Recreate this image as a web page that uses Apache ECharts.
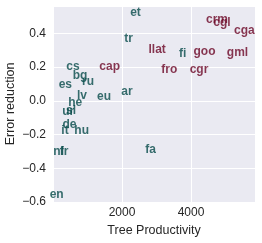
<!DOCTYPE html>
<html><head><meta charset="utf-8">
<script src="https://cdn.jsdelivr.net/npm/echarts@6/dist/echarts.min.js"></script>
<style>html,body{margin:0;padding:0;background:#fff}#c{width:262px;height:243px}</style>
</head><body><div id="c"></div>
<script>
// Labels (language codes), tree productivity (x), error reduction (y), group
const labels = ['cs','cap','bg','ru','es','lv','eu','he','ar','ur','sl','de','it','hu','nl','fr','en','fa','tr','et','llat','fi','goo','gml','fro','cgr','crm','cgl','cga'];
const productivity = [580,1643,783,1014,357,841,1478,646,2145,441,522,478,348,832,165,319,107,2826,2188,2391,3020,3759,4391,5348,3371,4232,4754,4899,5545];
const errorReduction = [0.200,0.200,0.147,0.111,0.093,0.028,0.024,-0.012,0.052,-0.067,-0.061,-0.144,-0.180,-0.180,-0.299,-0.299,-0.554,-0.291,0.370,0.522,0.305,0.281,0.289,0.285,0.182,0.182,0.483,0.463,0.418];
const groups = ['a','b','a','a','a','a','a','a','a','a','a','a','a','a','a','a','a','a','a','a','b','a','b','b','b','b','b','b','b'];
const xTicks = [2000, 4000];
const yTicks = [-0.6,-0.4,-0.2,0.0,0.2,0.4];

const colors = {a:'#074b4a', b:'#6b0626'};
const FONT = '"Liberation Sans", Arial, sans-serif';

function mk(g){
  const d=[];
  for(let i=0;i<labels.length;i++) if(groups[i]===g) d.push([productivity[i], errorReduction[i], labels[i]]);
  return {
    type:'scatter', data:d, symbolSize:1, itemStyle:{color:'rgba(0,0,0,0)'},
    label:{show:true, position:'inside', formatter:p=>p.data[2], color:colors[g],
      fontFamily:FONT, fontWeight:'bold', fontSize:12},
    emphasis:{disabled:true}, animation:false
  };
}
const fmtY = v => { const r=Math.round(v*10)/10; const s=(Math.abs(r)<1e-9?0:r).toFixed(1); return s.replace('-','\u2212'); };

const chart = echarts.init(document.getElementById('c'), null, {renderer:'canvas'});
chart.setOption({
  animation:false,
  grid:{left:53, right:7, top:6, bottom:41, show:true, backgroundColor:'#EAEAF2', borderWidth:0, outerBoundsMode:'none', containLabel:false},
  xAxis:{type:'value', min:0, max:5855, interval:2000,
    name:'Tree Productivity', nameLocation:'middle', nameGap:20,
    nameTextStyle:{color:'#262626', fontFamily:FONT, fontSize:12.5},
    axisLine:{show:false}, axisTick:{show:false},
    axisLabel:{color:'#262626', fontFamily:FONT, fontSize:12, margin:5, showMinLabel:false, showMaxLabel:false,
      formatter:v=> xTicks.indexOf(v)>=0 ? String(v) : ''},
    splitLine:{lineStyle:{color:'#ffffff', width:1}}},
  yAxis:{type:'value', min:-0.6, max:0.562, interval:0.2,
    name:'Error reduction', nameLocation:'middle', nameGap:36, nameMoveOverlap:false,
    nameTextStyle:{color:'#262626', fontFamily:FONT, fontSize:12.5},
    axisLine:{show:false}, axisTick:{show:false},
    axisLabel:{color:'#262626', fontFamily:FONT, fontSize:12, margin:7, showMaxLabel:false,
      formatter:v=>{ const r=Math.round(v*10)/10; return yTicks.some(t=>Math.abs(t-r)<1e-9) && Math.abs(r-v)<1e-6 ? fmtY(v) : ''; }},
    splitLine:{lineStyle:{color:'#ffffff', width:1}}},
  series:[mk('a'), mk('b')]
});
</script></body></html>
